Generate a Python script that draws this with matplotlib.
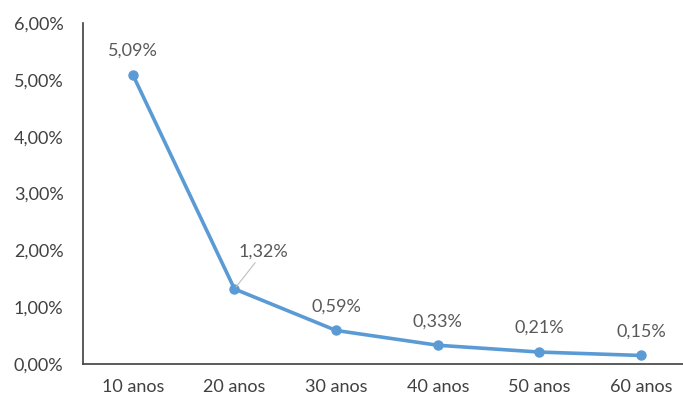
import matplotlib
matplotlib.use("Agg")
import matplotlib.pyplot as plt
from matplotlib.ticker import FuncFormatter

categories = ["10 anos", "20 anos", "30 anos", "40 anos", "50 anos", "60 anos"]
values = [5.09, 1.32, 0.59, 0.33, 0.21, 0.15]
y_ticks = [0, 1, 2, 3, 4, 5, 6]

plt.rcParams["font.family"] = ["Lato", "DejaVu Sans"]

fig = plt.figure(figsize=(6.83, 4.01), dpi=100)
ax = fig.add_axes([83 / 683, 37 / 401, 609 / 683, 341 / 401])

line_color = "#5B9BD5"
x = list(range(len(categories)))
ax.plot(x, values, color=line_color, linewidth=2.6, marker="o", markersize=6.5,
        solid_capstyle="round", zorder=3)

def pt_fmt(v, _pos=None):
    return f"{v:.2f}".replace(".", ",") + "%"

label_color = "#595959"
fs = 13
for i, v in enumerate(values):
    if i == 1:
        ax.annotate(pt_fmt(v), xy=(i, v), xytext=(21, 21), textcoords="offset points",
                    ha="center", va="bottom", fontsize=fs, color=label_color,
                    arrowprops=dict(arrowstyle="-", color="#BFBFBF", lw=0.8,
                                    shrinkA=0, shrinkB=2))
    else:
        ax.annotate(pt_fmt(v), xy=(i, v), xytext=(0, 11.5), textcoords="offset points",
                    ha="center", va="bottom", fontsize=fs, color=label_color)

ax.set_xlim(-0.49, 5.5)
ax.set_ylim(0, 6)
ax.set_yticks(y_ticks)
ax.yaxis.set_major_formatter(FuncFormatter(pt_fmt))
ax.set_xticks(x)
ax.set_xticklabels(categories)
ax.tick_params(axis="both", length=0, labelsize=fs, labelcolor="#404040")
ax.tick_params(axis="y", pad=14)
ax.tick_params(axis="x", pad=11)

for side in ("top", "right"):
    ax.spines[side].set_visible(False)
for side in ("left", "bottom"):
    ax.spines[side].set_color("#404040")
    ax.spines[side].set_linewidth(1.2)

fig.savefig("out.png", dpi=100)
